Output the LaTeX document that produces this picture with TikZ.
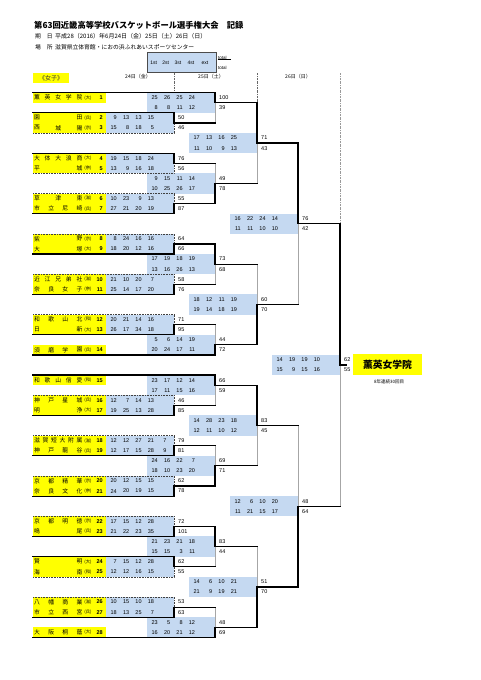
\documentclass[tikz,border=0pt]{standalone}
\usepackage{fontspec}
\setmainfont{Liberation Sans}
\newfontfamily\jp{Noto Sans CJK JP}
\definecolor{bx}{HTML}{C5D9F1}
\definecolor{yl}{HTML}{FFFF00}
\pgfdeclarelayer{fills}
\pgfdeclarelayer{bg}
\pgfsetlayers{fills,bg,main}
\tikzset{
 thk/.style={line width=1.2pt, black, line cap=rect, line join=miter},
 thn/.style={line width=0.5pt, black!35},
 dtd/.style={line width=0.6pt, black!75, dash pattern=on 0.8pt off 0.8pt},
 num/.style={inner sep=0pt, font=\fontsize{5.5}{6}\selectfont},
 nm/.style={inner sep=0pt, font=\jp\fontsize{5.8}{6}\selectfont},
 pf/.style={inner sep=0pt, font=\jp\fontsize{4.3}{5}\selectfont},
 sd/.style={inner sep=0pt, anchor=east, font=\bfseries\fontsize{5.5}{6}\selectfont},
 sepl/.style={line width=0.7pt, black!60, dash pattern=on 2pt off 1pt on 0.5pt off 1pt},
 hd/.style={inner sep=0pt, anchor=west, font=\jp\fontsize{5.8}{6}\selectfont},
}
\newcommand\team[5]{%
 \begin{pgfonlayer}{fills}\fill[yl] (33,#1-0.5) rectangle (106,#1+0.5);\end{pgfonlayer}
 \foreach \c [count=\i] in {#3} {\node[nm] (t#5c\i) at ({37+(\i-1)*42.5/(#2-1)},#1) {\c};}
 \node[pf] (p#5) at (88,#1) {(#4)};
 \node[sd] (s#5) at (103,#1) {#5};
}
\newcommand\BX[2]{\begin{pgfonlayer}{fills}\fill[bx] ({#1-68},#2-0.5) rectangle (#1,#2+1.5);\end{pgfonlayer}}
\newcommand\sco[4]{%
 \foreach \v [count=\i] in {#3} {\node[num,anchor=east] (x#1r#2c\i) at ({#1-57+12.4*(\i-1)},#2) {\v};}
 \node[num,anchor=west] (x#1r#2t) at ({#1+4},#2) {#4};
}
% R1: #1 upper row, #2 winner line y, #3 loser line y
\newcommand\rone[3]{%
 \begin{pgfonlayer}{bg}\draw[dtd] (33,#3) -- (174,#3) -- (174,#1+0.5);\end{pgfonlayer}
 \draw[thk] (33,#2) -- (174,#2) -- (174,#1+0.5) -- (215,#1+0.5);
}
% later rounds: C, Cnext, winner y, loser y, mid y
\newcommand\MT[5]{%
 \begin{pgfonlayer}{bg}\draw[thn] (#1,#4) -- (#1,#5);\end{pgfonlayer}
 \draw[thk] (#1,#3) -- (#1,#5) -- (#2,#5);
}
\begin{document}
\begin{tikzpicture}[x=1pt,y=-1pt]
\useasboundingbox (0,0) rectangle (481,680);
\begin{pgfonlayer}{fills}\fill[white] (0,0) rectangle (481,680);\end{pgfonlayer}
% header
\node[hd, font=\jp\bfseries\fontsize{8.3}{9}\selectfont] (title) at (34,25) {第63回近畿高等学校バスケットボール選手権大会　記録};
\node[hd] (d1) at (35,36.7) {期　日};
\node[hd, font=\jp\fontsize{6}{7}\selectfont] (d2) at (55,36.7) {平成28（2016）年6月24日（金）25日（土）26日（日）};
\node[hd] (v1) at (35,47.3) {場　所};
\node[hd] (v2) at (55,47.3) {滋賀県立体育館・におの浜ふれあいスポーツセンター};
\draw[fill=bx, draw=black!70, line width=0.8pt] (147,52.7) rectangle (216,72.7);
\foreach \t/\x [count=\i] in {1st/153.7,2st/165.7,3st/178,4st/191,ext/205}
  \node[inner sep=0pt, font=\fontsize{5}{6}\selectfont] (lg\i) at (\x,62.7) {\t};
\node[inner sep=0pt, anchor=west, font=\fontsize{4.5}{5}\selectfont] (tt1) at (218,58.3) {total};
\node[inner sep=0pt, anchor=west, font=\fontsize{4.5}{5}\selectfont] (tt2) at (218,68.3) {total};
\draw[line width=0.6pt] (tt1.south west) ++(-0.5,-0.8) -- ++(13.5,0);
\fill[yl] (33,73) rectangle (69,83);
\node[inner sep=0pt, font=\jp\fontsize{6}{7}\selectfont, text=black!80] (women) at (51,78) {《女子》};
\node[inner sep=0pt, font=\jp\fontsize{5}{6}\selectfont] (day1) at (138,77) {24日（金）};
\node[inner sep=0pt, font=\jp\fontsize{5}{6}\selectfont] (day2) at (211,77) {25日（土）};
\node[inner sep=0pt, font=\jp\fontsize{5}{6}\selectfont] (day3) at (298,77) {26日（日）};
\draw[sepl] (174,73) -- (174,90);
\draw[sepl] (257,73) -- (257,102.7);
\draw[sepl, black!40] (340,73) -- (340,223.8);
% champion
\fill[yl] (353,354) rectangle (422,375);
\node[inner sep=0pt, font=\jp\bfseries\fontsize{9.8}{11}\selectfont] (champ) at (387.5,364.5) {薫英女学院};
\node[inner sep=0pt, font=\jp\fontsize{4.5}{5}\selectfont] (champ2) at (389,381.5) {8年連続30回目};

\begin{scope}[y=-10.087pt, yshift=-97.7pt]
% teams
\team{0}{5}{薫,英,女,学,院}{大}{1}
\team{2}{2}{園,田}{兵}{2}
\team{3}{3}{西,城,陽}{京}{3}
\team{6}{5}{大,体,大,浪,商}{大}{4}
\team{7}{2}{平,城}{奈}{5}
\team{10}{3}{草,津,東}{滋}{6}
\team{11}{4}{市,立,尼,崎}{兵}{7}
\team{14}{2}{紫,野}{京}{8}
\team{15}{2}{大,塚}{大}{9}
\team{18}{5}{近,江,兄,弟,社}{滋}{10}
\team{19}{4}{奈,良,女,子}{奈}{11}
\team{22}{4}{和,歌,山,北}{和}{12}
\team{23}{2}{日,新}{大}{13}
\team{25}{4}{須,磨,学,園}{兵}{14}
\team{28}{5}{和,歌,山,信,愛}{和}{15}
\team{30}{4}{神,戸,星,城}{兵}{16}
\team{31}{2}{明,浄}{大}{17}
\team{34}{6}{滋,賀,短,大,附,属}{滋}{18}
\team{35}{4}{神,戸,龍,谷}{兵}{19}
\team{38}{4}{京,都,精,華}{京}{20}
\team{39}{4}{奈,良,文,化}{奈}{21}
\team{42}{4}{京,都,明,徳}{京}{22}
\team{43}{2}{鳴,尾}{兵}{23}
\team{46}{2}{賢,明}{大}{24}
\team{47}{2}{海,南}{和}{25}
\team{50}{4}{八,幡,商,業}{滋}{26}
\team{51}{4}{市,立,西,宮}{兵}{27}
\team{53}{4}{大,阪,桐,蔭}{大}{28}
% round 1
\foreach \r in {2,6,10,14,18,22,30,34,38,42,46,50} {\BX{174}{\r}}
\sco{174}{2}{9,13,13,15}{50}\sco{174}{3}{15,8,18,5}{46}
\sco{174}{6}{19,15,18,24}{76}\sco{174}{7}{13,9,16,18}{56}
\sco{174}{10}{10,23,9,13}{55}\sco{174}{11}{27,21,20,19}{87}
\sco{174}{14}{8,24,16,16}{64}\sco{174}{15}{18,20,12,16}{66}
\sco{174}{18}{21,10,20,7}{58}\sco{174}{19}{25,14,17,20}{76}
\sco{174}{22}{20,21,14,16}{71}\sco{174}{23}{26,17,34,18}{95}
\sco{174}{30}{12,7,14,13}{46}\sco{174}{31}{19,25,13,28}{85}
\sco{174}{34}{12,12,27,21,7}{79}\sco{174}{35}{12,17,15,28,9}{81}
\sco{174}{38}{20,12,15,15}{62}\sco{174}{39}{24,20,19,15}{78}
\sco{174}{42}{17,15,12,28}{72}\sco{174}{43}{21,22,23,35}{101}
\sco{174}{46}{7,15,12,28}{62}\sco{174}{47}{12,12,16,15}{55}
\sco{174}{50}{10,15,10,18}{53}\sco{174}{51}{18,13,25,7}{63}
\rone{2}{1.5}{3.5}
\rone{6}{5.5}{7.5}
\rone{10}{11.5}{9.5}
\rone{14}{15.5}{13.5}
\rone{18}{19.5}{17.5}
\rone{22}{23.5}{21.5}
\rone{30}{31.5}{29.5}
\rone{34}{35.5}{33.5}
\rone{38}{39.5}{37.5}
\rone{42}{43.5}{41.5}
\rone{46}{45.5}{47.5}
\rone{50}{51.5}{49.5}
% byes
\draw[thk] (33,-0.5) -- (215,-0.5);
\draw[thk] (33,25.5) -- (215,25.5);
\draw[thk] (33,27.5) -- (215,27.5);
\draw[thk] (33,53.5) -- (215,53.5);
% round 2
\foreach \r in {0,8,16,24,28,36,44,52} {\BX{215}{\r}}
\sco{215}{0}{25,26,25,24}{100}\sco{215}{1}{8,8,11,12}{39}
\sco{215}{8}{9,15,11,14}{49}\sco{215}{9}{10,25,26,17}{78}
\sco{215}{16}{17,19,18,19}{73}\sco{215}{17}{13,16,26,13}{68}
\sco{215}{24}{5,6,14,19}{44}\sco{215}{25}{20,24,17,11}{72}
\sco{215}{28}{23,17,12,14}{66}\sco{215}{29}{17,11,15,16}{59}
\sco{215}{36}{24,16,22,7}{69}\sco{215}{37}{18,10,23,20}{71}
\sco{215}{44}{21,23,21,18}{83}\sco{215}{45}{15,15,3,11}{44}
\sco{215}{52}{23,5,8,12}{48}\sco{215}{53}{16,20,21,12}{69}
\MT{215}{257}{-0.5}{2.5}{0.5}
\MT{215}{257}{10.5}{6.5}{8.5}
\MT{215}{257}{14.5}{18.5}{16.5}
\MT{215}{257}{25.5}{22.5}{24.5}
\MT{215}{257}{27.5}{30.5}{28.5}
\MT{215}{257}{38.5}{34.5}{36.5}
\MT{215}{257}{42.5}{46.5}{44.5}
\MT{215}{257}{53.5}{50.5}{52.5}
% quarter finals
\foreach \r in {4,20,32,48} {\BX{257}{\r}}
\sco{257}{4}{17,13,16,25}{71}\sco{257}{5}{11,10,9,13}{43}
\sco{257}{20}{18,12,11,19}{60}\sco{257}{21}{19,14,18,19}{70}
\sco{257}{32}{14,28,23,18}{83}\sco{257}{33}{12,11,10,12}{45}
\sco{257}{48}{14,6,10,21}{51}\sco{257}{49}{21,9,19,21}{70}
\MT{257}{298}{0.5}{8.5}{4.5}
\MT{257}{298}{24.5}{16.5}{20.5}
\MT{257}{298}{28.5}{36.5}{32.5}
\MT{257}{298}{52.5}{44.5}{48.5}
% semi finals
\foreach \r in {12,40} {\BX{298}{\r}}
\sco{298}{12}{16,22,24,14}{76}\sco{298}{13}{11,11,10,10}{42}
\sco{298}{40}{12,6,10,20}{48}\sco{298}{41}{11,21,15,17}{64}
\MT{298}{340}{4.5}{20.5}{12.5}
\MT{298}{340}{48.5}{32.5}{40.5}
% final
\BX{340}{26}
\sco{340}{26}{14,19,19,10}{62}\sco{340}{27}{15,9,15,16}{55}
\MT{340}{346.5}{12.5}{40.5}{26.5}
\end{scope}
\end{tikzpicture}
\end{document}
